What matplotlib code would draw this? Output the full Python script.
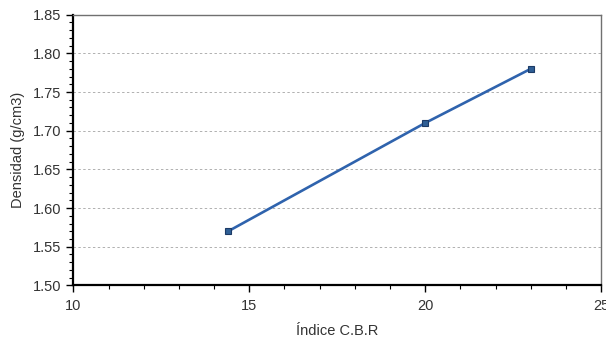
import matplotlib
matplotlib.use("Agg")
import matplotlib.pyplot as plt
from matplotlib.ticker import MultipleLocator

# CBR index vs dry density
cbr = [14.4, 20.0, 23.0]
densidad = [1.57, 1.71, 1.78]

plt.rcParams['font.family'] = ['Liberation Sans', 'DejaVu Sans']

fig = plt.figure(figsize=(6.06, 3.41), dpi=100)
ax = fig.add_axes([0.121, 0.163, 0.871, 0.794])

ax.plot(cbr, densidad, color='#2f63ad', lw=1.9, marker='s', markersize=4.5,
        markerfacecolor='#2f5f95', markeredgecolor='#1c3a66', markeredgewidth=0.8,
        zorder=3)

ax.set_xlim(10, 25)
ax.set_ylim(1.50, 1.85)
ax.xaxis.set_major_locator(MultipleLocator(5))
ax.xaxis.set_minor_locator(MultipleLocator(1))
ax.yaxis.set_major_locator(MultipleLocator(0.05))
ax.yaxis.set_minor_locator(MultipleLocator(0.01))
ax.yaxis.set_major_formatter(plt.FormatStrFormatter('%.2f'))

ax.grid(axis='y', which='major', color='#b0b0b0', ls=(0, (2.5, 2.5)), lw=0.7)
ax.set_axisbelow(True)

for s in ('left', 'bottom'):
    ax.spines[s].set_color('black')
    ax.spines[s].set_linewidth(1.6)
for s in ('top', 'right'):
    ax.spines[s].set_color('#707070')
    ax.spines[s].set_linewidth(1.0)

ax.tick_params(which='major', direction='out', length=5, width=1, colors='black',
               labelcolor='#333333', labelsize=10.5)
ax.tick_params(axis='x', which='major', pad=5)
ax.tick_params(which='minor', direction='out', length=3, width=0.8, colors='black')

ax.set_xlabel('Índice C.B.R', fontsize=10.5, color='#333333', labelpad=8)
ax.set_ylabel('Densidad (g/cm3)', fontsize=10.5, color='#333333', labelpad=6)

fig.savefig('out.png', dpi=100)
